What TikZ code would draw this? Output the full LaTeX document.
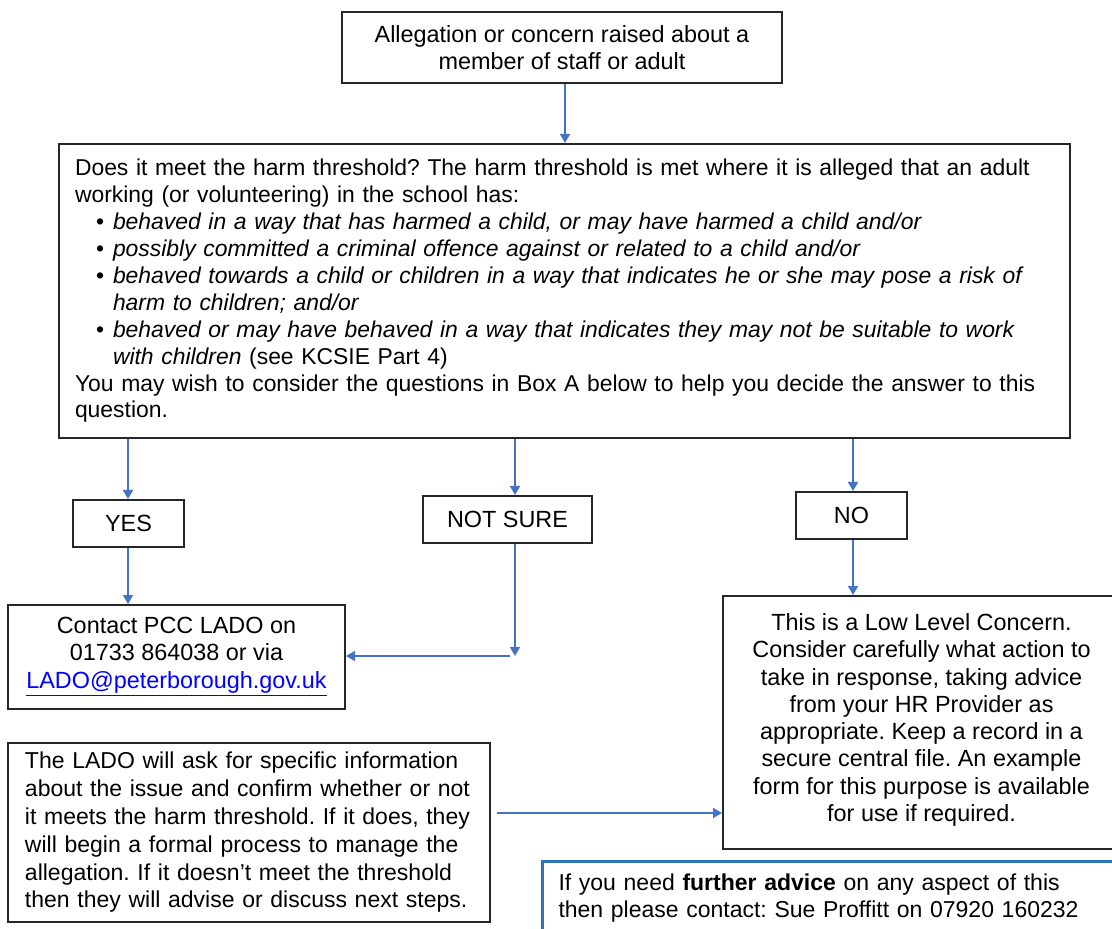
\documentclass[tikz,border=0pt]{standalone}
\usepackage{fontspec}
\setmainfont{Liberation Sans}
\usetikzlibrary{arrows.meta}
\definecolor{arrowblue}{RGB}{68,114,196}
\definecolor{boxblue}{RGB}{46,117,182}
\definecolor{linkblue}{RGB}{0,0,255}
\frenchspacing
\newcommand{\fsmain}{\fontsize{11.7pt}{13.65pt}\selectfont}
\newcommand{\bulitem}{\hspace*{10.5pt}\makebox[8.5pt][l]{\textbullet}}
\newcommand{\bulcont}{\hspace*{19pt}}
\begin{document}
\begin{tikzpicture}[x=0.5pt,y=-0.5pt,
  box/.style={draw=black!85, line width=1pt, rectangle, inner sep=0pt, font=\fsmain, align=center},
  conn/.style={draw=arrowblue, line width=0.75pt, -{Triangle[width=5pt,length=4.5pt]}},
]
\useasboundingbox (0,0) rectangle (1112,929);
\clip (0,0) rectangle (1112,929);
\fill[white] (0,0) rectangle (1112,929);

\node[box, minimum width=220pt, minimum height=35.5pt] (top) at (562,47.5)
  {Allegation or concern raised about a\\member of staff or adult};

\node[box, align=left, text width=489.5pt, inner xsep=8pt, minimum height=147pt,
      font=\fontsize{11.45pt}{13.45pt}\selectfont] (harm) at (564.5,291)
  {\mbox{Does it meet the harm threshold? The harm threshold is met where it is alleged that an adult}\\
   working (or volunteering) in the school has:\\
   \bulitem\textit{behaved in a way that has harmed a child, or may have harmed a child and/or}\\
   \bulitem\textit{possibly committed a criminal offence against or related to a child and/or}\\
   \mbox{\bulitem\textit{behaved towards a child or children in a way that indicates he or she may pose a risk of}}\\
   \bulcont\textit{harm to children; and/or}\\
   \mbox{\bulitem\textit{behaved or may have behaved in a way that indicates they may not be suitable to work}}\\
   \bulcont\textit{with children} (see KCSIE Part 4)\\
   \mbox{You may wish to consider the questions in Box A below to help you decide the answer to this}\\
   question.\\[8pt]};

\node[box, minimum width=55.5pt, minimum height=23.5pt] (yes) at (128.5,523.5) {YES};
\node[box, minimum width=84.5pt, minimum height=23.5pt] (notsure) at (507.5,519.5) {NOT SURE};
\node[box, minimum width=55.5pt, minimum height=23.5pt] (no) at (851.5,515.5) {NO};

\node[box, minimum width=168.5pt, minimum height=52pt] (contact) at (176.5,657)
  {Contact PCC LADO on\\01733 864038 or via\\{\color{linkblue}\underline{LADO@peterborough.gov.uk}}};

\node[box, minimum width=198.5pt, minimum height=126.5pt] (low) at (921.5,722.5)
  {This is a Low Level Concern.\\Consider carefully what action to\\take in response, taking advice\\from your HR Provider as\\appropriate. Keep a record in a\\secure central file. An example\\form for this purpose is available\\for use if required.\\[-8.65pt]};

\node[box, align=left, text width=224pt, inner xsep=8.5pt, minimum height=89.5pt,
      font=\fontsize{11.5pt}{13.9pt}\selectfont] (lado) at (249,832.5)
  {\mbox{The LADO will ask for specific information}\\\mbox{about the issue and confirm whether or not}\\\mbox{it meets the harm threshold. If it does, they}\\\mbox{will begin a formal process to manage the}\\\mbox{allegation. If it doesn’t meet the threshold}\\\mbox{then they will advise or discuss next steps.}};

\node[box, draw=boxblue, line width=1.5pt, anchor=north west, align=left, text width=284pt,
      inner xsep=8pt, inner ysep=6pt, font=\fontsize{11.5pt}{13.65pt}\selectfont] (advice) at (541,860)
  {If you need \textbf{further advice} on any aspect of this\\then please contact: Sue Proffitt on 07920 160232\\ };

\coordinate (c1) at (565,0);
\coordinate (cyes) at (128,0);
\coordinate (cns) at (515,0);
\coordinate (cno) at (853,0);
\coordinate (nsend) at (515,656);
\coordinate (nsstart) at (510,656);
\coordinate (lstart) at (497,813);

\draw[conn] (top.south -| c1) -- (harm.north -| c1);
\draw[conn] (harm.south -| cyes) -- (yes.north -| cyes);
\draw[conn] (yes.south -| cyes) -- (contact.north -| cyes);
\draw[conn] (harm.south -| cns) -- (notsure.north -| cns);
\draw[conn] (notsure.south -| cns) -- (nsend);
\draw[conn] (nsstart) -- (contact.east |- nsstart);
\draw[conn] (harm.south -| cno) -- (no.north -| cno);
\draw[conn] (no.south -| cno) -- (low.north -| cno);
\draw[conn] (lstart) -- (low.west |- lstart);
\end{tikzpicture}
\end{document}
